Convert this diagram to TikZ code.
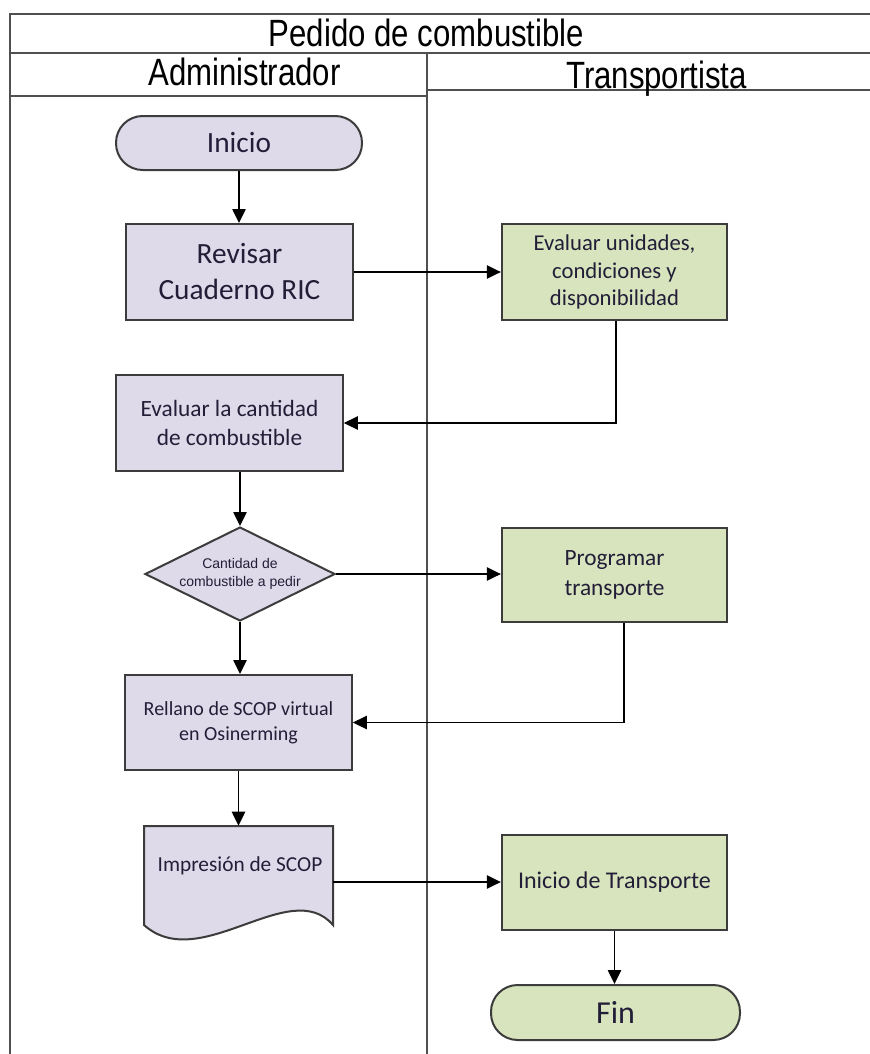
\documentclass[tikz,border=0pt]{standalone}
\usepackage{fontspec}
\setmainfont{Carlito}
\newfontfamily\headfont[FakeStretch=0.82]{Liberation Sans}
\newfontfamily\diafont{Liberation Sans}
\usetikzlibrary{shapes.geometric,arrows.meta,calc}
\definecolor{lav}{HTML}{DEDAE9}
\definecolor{sage}{HTML}{D7E4BD}
\definecolor{edgegray}{HTML}{3C3C3C}
\definecolor{ink}{HTML}{231E38}
\definecolor{lanegray}{HTML}{505050}

\begin{document}
\begin{tikzpicture}[x=0.75pt,y=-0.75pt,
  box/.style={draw=edgegray,line width=1.5pt,align=center,text=ink,inner sep=2pt},
  adm/.style={box,fill=lav},
  trn/.style={box,fill=sage},
  term/.style={rounded corners=20pt,minimum height=40.5pt,font=\fontsize{22}{26}\selectfont},
  proc/.style={minimum width=170pt,minimum height=72pt},
  flow/.style={draw=black,line width=1.1pt,-{Triangle[width=10pt,length=10.5pt]}},
  lane/.style={draw=lanegray,line width=1.4pt},
  head/.style={font=\headfont\fontsize{28.5}{30}\selectfont,anchor=base,text=black}]

% canvas
\useasboundingbox (0,0) rectangle (870,1054);
\fill[white] (0,0) rectangle (870,1054);

% swimlane frame
\draw[lane] (10,1054) -- (10,14) -- (870,14);
\draw[lane] (10,53) -- (870,53);
\draw[lane] (10,96) -- (427,96);
\draw[lane] (427,90) -- (870,90);
\draw[lane] (427,53) -- (427,1054);

\node[head] (title) at (426.5,46) {Pedido de combustible};
\node[head] (laneA) at (244.5,85) {Administrador};
\node[head] (laneB) at (656.5,88) {Transportista};

% Administrador lane
\node[adm,term,minimum width=184.5pt] (ini) at (239,143) {Inicio};
\node[adm,proc,font=\fontsize{22}{27}\selectfont] (rev) at (239.5,272) {Revisar\\Cuaderno RIC};
\node[adm,proc,font=\fontsize{17.5}{22}\selectfont] (evc) at (229.5,423) {Evaluar la cantidad\\de combustible};
\node[adm,diamond,aspect=2,inner sep=0pt,minimum width=142.5pt,minimum height=70.5pt,
      font=\diafont\fontsize{10.5}{13.5}\selectfont] (dia) at (240,574) {Cantidad de\\combustible a pedir};
\node[adm,proc,minimum height=71.25pt,font=\fontsize{15}{18.75}\selectfont] (rel) at (238.5,722.5) {Rellano de SCOP virtual\\en Osinerming};

% document shape with a wavy lower edge
\draw[draw=edgegray,line width=1.5pt,fill=lav]
  (144,826) -- (333,826) -- (333,925) .. controls (290,875) and (200,975) .. (144,925) -- cycle;
\node[minimum width=141.75pt,minimum height=84pt,inner sep=0pt] (imp) at (238.5,882) {};
\node[text=ink,font=\fontsize{16}{20}\selectfont] (imptext) at (240,866) {Impresión de SCOP};

% Transportista lane
\node[trn,proc,minimum width=169pt,font=\fontsize{17}{20.6}\selectfont] (evu) at (614.5,272) {Evaluar unidades,\\condiciones y\\disponibilidad};
\node[trn,proc,minimum width=169pt,minimum height=70.5pt,font=\fontsize{17.5}{22}\selectfont] (prg) at (614.5,575) {Programar\\transporte};
\node[trn,proc,minimum width=169pt,minimum height=71.25pt,font=\fontsize{18}{22}\selectfont] (itr) at (614.5,882.5) {Inicio de Transporte};
\node[trn,term,minimum width=186.75pt,minimum height=41.25pt,font=\fontsize{24}{28}\selectfont] (fin) at (615.5,1012.5) {Fin};

% connectors
\draw[flow] (ini.south) -- (ini.south |- rev.north);
\draw[flow] (rev.east) -- (rev.east -| evu.west);
\draw[flow] ([xshift=1.1pt]evu.south) |- (evc.east);
\draw[flow] (dia.north |- evc.south) -- (dia.north);
\draw[flow] (dia.east) -- (dia.east -| prg.west);
\draw[flow] (dia.south) -- (dia.south |- rel.north);
\draw[flow] ([xshift=7pt]prg.south) |- (rel.east);
\draw[flow] (rel.south) -- (rel.south |- imp.north);
\draw[flow] (imp.east) -- (imp.east -| itr.west);
\draw[flow] (itr.south) -- (itr.south |- fin.north);
\end{tikzpicture}
\end{document}
